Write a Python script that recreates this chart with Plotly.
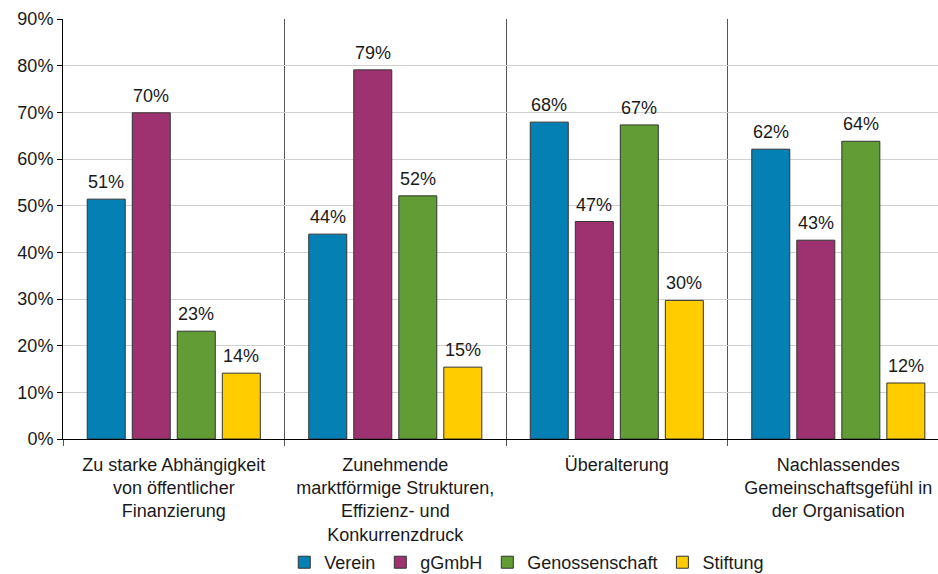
import plotly.graph_objects as go

categories = [
    "Zu starke Abhängigkeit<br>von öffentlicher<br>Finanzierung",
    "Zunehmende<br>marktförmige Strukturen,<br>Effizienz- und<br>Konkurrenzdruck",
    "Überalterung",
    "Nachlassendes<br>Gemeinschaftsgefühl in<br>der Organisation",
]
series_names = ["Verein", "gGmbH", "Genossenschaft", "Stiftung"]
verein = [51.4, 43.9, 67.9, 62.1]
ggmbh = [69.9, 79.1, 46.6, 42.6]
genossenschaft = [23.1, 52.1, 67.3, 63.8]
stiftung = [14.1, 15.4, 29.7, 12.0]
y_ticks = [0, 10, 20, 30, 40, 50, 60, 70, 80, 90]
y_ticktext = [f"{v}%" for v in y_ticks]

colors = ["#0580B5", "#9E3270", "#629C35", "#FFCC00"]
FONT = "Liberation Sans, Arial, sans-serif"
FS = 18

W, H = 938, 574
ML, MR, MT, MB = 63, 0, 19, 135
XR = [-0.5, 3.45]
BARGAP = 0.187
px_per_cat = (W - ML - MR) / (XR[1] - XR[0])
slot = px_per_cat * (1 - BARGAP) / len(series_names)

fig = go.Figure()
all_series = [verein, ggmbh, genossenschaft, stiftung]
for i, (name, vals, col) in enumerate(zip(series_names, all_series, colors)):
    fig.add_trace(go.Bar(
        x=categories, y=vals, name=name,
        marker=dict(color=col, line=dict(color="#333333", width=1)),
    ))
    for c, v in zip(categories, vals):
        fig.add_annotation(
            x=c, y=v, text=f"{v:.0f}%", showarrow=False,
            xanchor="center", yanchor="bottom",
            xshift=(i - (len(series_names) - 1) / 2) * slot, yshift=5,
            font=dict(size=FS, color="#1a1a1a", family=FONT),
        )

fig.update_layout(
    width=W, height=H,
    margin=dict(l=ML, r=MR, t=MT, b=MB, autoexpand=False),
    paper_bgcolor="white", plot_bgcolor="white",
    barmode="group", bargap=BARGAP, bargroupgap=0.156,
    font=dict(family=FONT, size=FS, color="#1a1a1a"),
    showlegend=True,
    legend=dict(orientation="h", x=0.53, xanchor="center",
                yref="container", y=0.02, yanchor="middle",
                font=dict(size=FS), itemwidth=30),
)
fig.update_yaxes(
    range=[0, 90], tickvals=y_ticks, ticktext=y_ticktext,
    showgrid=True, gridcolor="#d0d0d0", gridwidth=1,
    showline=True, linecolor="#000000", linewidth=1,
    ticks="outside", ticklen=5, tickcolor="#000000",
    zeroline=False, automargin=False,
)
fig.update_xaxes(
    range=XR, tickson="boundaries",
    showgrid=True, gridcolor="#555555", gridwidth=1,
    showline=True, linecolor="#000000", linewidth=1,
    ticks="outside", ticklen=6, tickcolor="#555555",
    tickangle=0, ticklabelstandoff=9, automargin=False,
)

fig.write_html("out.html")
